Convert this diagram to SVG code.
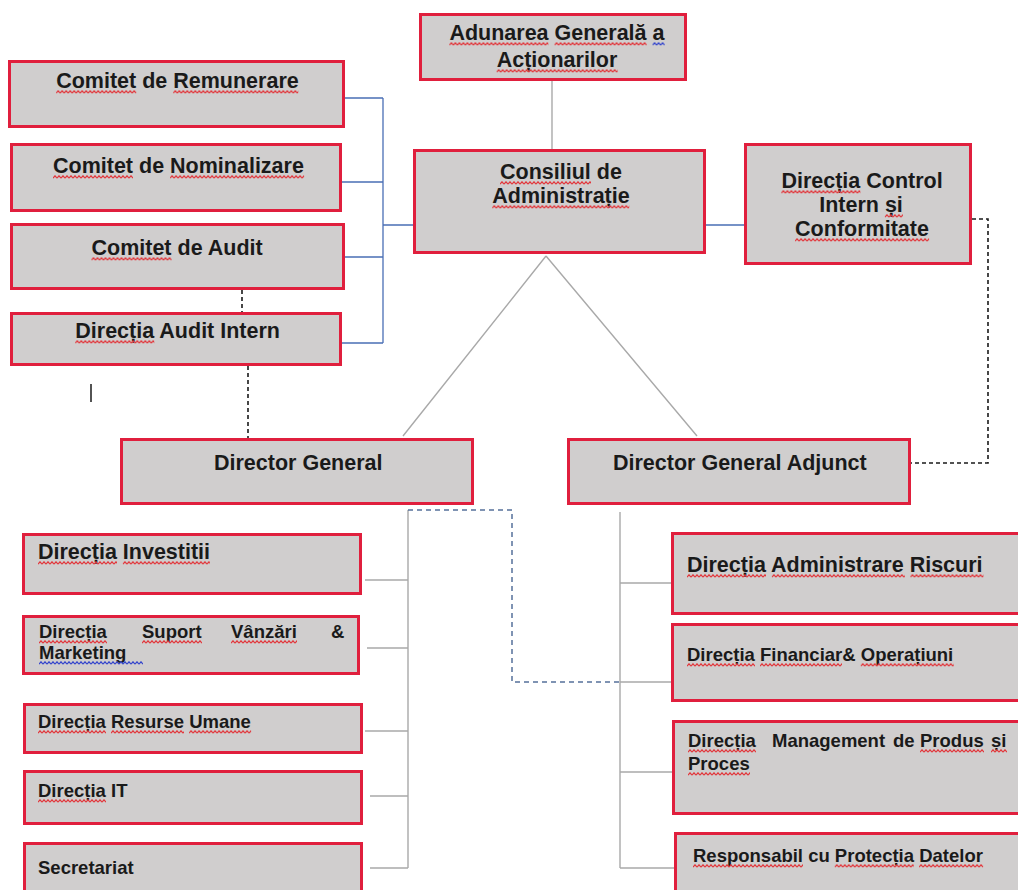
<svg xmlns="http://www.w3.org/2000/svg" width="1018" height="890" viewBox="0 0 1018 890">
<style>
.box{fill:#d0cece;stroke:#e01f3d;stroke-width:3}
.t{font-family:"Liberation Sans",Arial,sans-serif;font-weight:bold;fill:#1a1a1a}
.L{font-size:21.5px}
.S{font-size:18.5px}
.g{fill:none;stroke:#a9a9a9;stroke-width:1.4}
.b{fill:none;stroke:#4a6fb5;stroke-width:1.3}
.bd{fill:none;stroke:#55709a;stroke-width:1.5;stroke-dasharray:5 4}
.kd{fill:none;stroke:#1a1a1a;stroke-width:1.6;stroke-dasharray:4 3}
.sq{fill:url(#wr)}
.sb{fill:url(#wb)}
</style>
<defs>
<pattern id="wr" width="4" height="4" patternUnits="userSpaceOnUse"><path d="M0,3.2 L2,0.8 L4,3.2" fill="none" stroke="#e2353a" stroke-width="1.2"/></pattern>
<pattern id="wb" width="4" height="4" patternUnits="userSpaceOnUse"><path d="M0,3.2 L2,0.8 L4,3.2" fill="none" stroke="#3344cc" stroke-width="1.2"/></pattern>
</defs>
<rect width="1018" height="890" fill="#ffffff"/>
<g id="connectors">
<path class="g" d="M552 81V149"/>
<path class="g" d="M546 256L403 436M546 256L697 436"/>
<path class="g" d="M408 510V868M365 580H408M367 648H408M365 731H408M370 796H408M370 868H408"/>
<path class="g" d="M620 512V868M620 583H671M620 682H671M620 772H672M620 868H674"/>
<path class="b" d="M383 98V343M345 98H383M342 182H383M345 257H383M342 343H383M383 225H413M706 225H744"/>
<path class="bd" d="M408 510H512V682H620"/>
<path class="kd" d="M242 290V312M248 366V438M972 219H988V463H911"/>
<path d="M91 384V402" stroke="#1a1a1a" stroke-width="1.5"/>
</g>
<g id="adunarea">
<rect class="box" x="420.5" y="14.5" width="265" height="65"/>
<text class="t L" x="449.4" y="40">Adunarea Generală a</text>
<text class="t L" x="496.7" y="67">Acționarilor</text>
<rect class="sq" transform="translate(449.4,42)" width="99" height="4"/>
<rect class="sq" transform="translate(554.6,42)" width="92" height="4"/>
<rect class="sb" transform="translate(652.6,42)" width="12" height="4"/>
<rect class="sq" transform="translate(496.7,69)" width="121" height="4"/>
</g>
<g id="remunerare">
<rect class="box" x="9.5" y="61.5" width="334" height="65"/>
<text class="t L" x="56.2" y="88">Comitet de Remunerare</text>
<rect class="sq" transform="translate(56.2,90)" width="80" height="4"/>
<rect class="sq" transform="translate(173.3,90)" width="125" height="4"/>
</g>
<g id="nominalizare">
<rect class="box" x="11.5" y="144.5" width="329" height="66"/>
<text class="t L" x="53" y="173">Comitet de Nominalizare</text>
<rect class="sq" transform="translate(53,175)" width="80" height="4"/>
<rect class="sq" transform="translate(170.1,175)" width="134" height="4"/>
</g>
<g id="audit">
<rect class="box" x="11.5" y="224.5" width="332" height="64"/>
<text class="t L" x="91.5" y="255">Comitet de Audit</text>
<rect class="sq" transform="translate(91.5,257)" width="80" height="4"/>
</g>
<g id="audit-intern">
<rect class="box" x="11.5" y="313.5" width="329" height="51"/>
<text class="t L" x="75.3" y="338">Direcția Audit Intern</text>
<rect class="sq" transform="translate(75.3,340)" width="79" height="4"/>
</g>
<g id="consiliul">
<rect class="box" x="414.5" y="150.5" width="290" height="102"/>
<text class="t L" x="500" y="179">Consiliul de</text>
<text class="t L" x="492.3" y="203">Administrație</text>
<rect class="sq" transform="translate(500,181)" width="91" height="4"/>
<rect class="sq" transform="translate(492.3,205)" width="137" height="4"/>
</g>
<g id="control">
<rect class="box" x="745.5" y="144.5" width="225" height="119"/>
<text class="t L" x="781.4" y="188">Direcția Control</text>
<text class="t L" x="819.2" y="212">Intern și</text>
<text class="t L" x="795.1" y="236">Conformitate</text>
<rect class="sq" transform="translate(781.4,190)" width="79" height="4"/>
<rect class="sq" transform="translate(884.9,214)" width="18" height="4"/>
<rect class="sq" transform="translate(795.1,238)" width="134" height="4"/>
</g>
<g id="director-general">
<rect class="box" x="121.5" y="439.5" width="351" height="64"/>
<text class="t L" x="214" y="470">Director General</text>
</g>
<g id="director-general-adjunct">
<rect class="box" x="568.5" y="439.5" width="341" height="64"/>
<text class="t L" x="613" y="470">Director General Adjunct</text>
</g>
<g id="investitii">
<rect class="box" x="23.5" y="534.5" width="337" height="59"/>
<text class="t L" x="38" y="559">Direcția Investitii</text>
<rect class="sq" transform="translate(38,561)" width="79" height="4"/>
<rect class="sq" transform="translate(122.9,561)" width="87" height="4"/>
</g>
<g id="suport">
<rect class="box" x="23.5" y="616.5" width="335" height="57"/>
<text class="t S" y="638"><tspan x="39">Direcția</tspan><tspan x="142">Suport</tspan><tspan x="231">Vânzări</tspan><tspan x="331">&amp;</tspan></text>
<text class="t S" x="39" y="659">Marketing</text>
<rect class="sq" transform="translate(39,640)" width="68" height="4"/>
<rect class="sq" transform="translate(142,640)" width="60" height="4"/>
<rect class="sq" transform="translate(231,640)" width="66" height="4"/>
<rect class="sb" transform="translate(39,661)" width="104" height="4"/>
</g>
<g id="resurse">
<rect class="box" x="24.5" y="704.5" width="337" height="48"/>
<text class="t S" x="38" y="728">Direcția Resurse Umane</text>
<rect class="sq" transform="translate(38,730)" width="68" height="4"/>
<rect class="sq" transform="translate(111,730)" width="73" height="4"/>
<rect class="sq" transform="translate(189.1,730)" width="62" height="4"/>
</g>
<g id="it">
<rect class="box" x="24.5" y="771.5" width="337" height="52"/>
<text class="t S" x="38" y="797">Direcția IT</text>
<rect class="sq" transform="translate(38,799)" width="68" height="4"/>
</g>
<g id="secretariat">
<rect class="box" x="24.5" y="843.5" width="337" height="60"/>
<text class="t S" x="38" y="874">Secretariat</text>
</g>
<g id="riscuri">
<rect class="box" x="672.5" y="533.5" width="360" height="80"/>
<text class="t L" x="687" y="572">Direcția Administrare Riscuri</text>
<rect class="sq" transform="translate(687,574)" width="79" height="4"/>
<rect class="sq" transform="translate(771.9,574)" width="133" height="4"/>
<rect class="sq" transform="translate(910.5,574)" width="73" height="4"/>
</g>
<g id="financiar">
<rect class="box" x="672.5" y="624.5" width="360" height="76"/>
<text class="t S" x="687" y="661">Direcția Financiar&amp; Operațiuni</text>
<rect class="sq" transform="translate(687,663)" width="68" height="4"/>
<rect class="sq" transform="translate(760,663)" width="82" height="4"/>
<rect class="sq" transform="translate(860.8,663)" width="93" height="4"/>
</g>
<g id="management">
<rect class="box" x="673.5" y="721.5" width="360" height="92"/>
<text class="t S" y="747"><tspan x="688">Direcția</tspan><tspan x="772">Management</tspan><tspan x="893">de</tspan><tspan x="920">Produs</tspan><tspan x="991">și</tspan></text>
<text class="t S" x="688" y="770">Proces</text>
<rect class="sq" transform="translate(688,749)" width="68" height="4"/>
<rect class="sq" transform="translate(920,749)" width="64" height="4"/>
<rect class="sq" transform="translate(991,749)" width="16" height="4"/>
<rect class="sq" transform="translate(688,772)" width="62" height="4"/>
</g>
<g id="responsabil">
<rect class="box" x="675.5" y="833.5" width="360" height="70"/>
<text class="t S" x="693" y="862">Responsabil cu Protecția Datelor</text>
<rect class="sq" transform="translate(693,864)" width="110" height="4"/>
<rect class="sq" transform="translate(834.8,864)" width="79" height="4"/>
<rect class="sq" transform="translate(919.1,864)" width="64" height="4"/>
</g>
</svg>
